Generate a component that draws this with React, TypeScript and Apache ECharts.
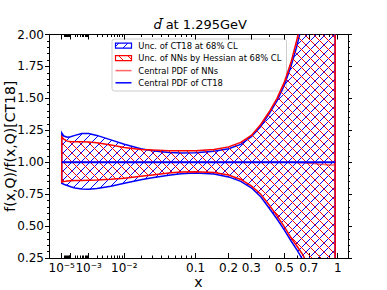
import React, { useEffect, useRef } from 'react';
import * as echarts from 'echarts';

// ---- data ----
const xValues = [1e-5, 2e-5, 5e-5, 1e-4, 2e-4, 5e-4, 1e-3, 2e-3, 5e-3, 0.01, 0.02, 0.03, 0.05, 0.07, 0.1, 0.15, 0.2, 0.25, 0.3, 0.35, 0.4, 0.45, 0.5, 0.55, 0.6, 0.65, 0.7, 0.75, 0.8, 0.85, 0.9, 0.95, 0.97];
const ct18Upper = [1.23, 1.205, 1.195, 1.2, 1.21, 1.225, 1.225, 1.21, 1.175, 1.14, 1.105, 1.09, 1.077, 1.073, 1.074, 1.085, 1.105, 1.14, 1.2, 1.28, 1.38, 1.48, 1.6, 1.75, 1.92, 2.12, 2.4, 2.8, 3.4, 4.2, 5.5, 8.0, 10.0];
const ct18Lower = [0.835, 0.828, 0.818, 0.808, 0.798, 0.79, 0.788, 0.795, 0.812, 0.835, 0.862, 0.878, 0.898, 0.91, 0.915, 0.908, 0.885, 0.85, 0.8, 0.73, 0.64, 0.555, 0.47, 0.385, 0.31, 0.23, 0.13, -0.02, -0.25, -0.6, -1.2, -2.5, -3.5];
const nnUpper = [1.2, 1.18, 1.165, 1.16, 1.16, 1.16, 1.158, 1.152, 1.135, 1.115, 1.1, 1.095, 1.09, 1.089, 1.09, 1.1, 1.12, 1.155, 1.21, 1.295, 1.395, 1.5, 1.625, 1.78, 1.97, 2.2, 2.5, 2.9, 3.5, 4.4, 5.8, 8.5, 10.5];
const nnLower = [0.845, 0.848, 0.852, 0.855, 0.856, 0.857, 0.858, 0.86, 0.866, 0.875, 0.89, 0.9, 0.915, 0.923, 0.926, 0.92, 0.9, 0.865, 0.815, 0.75, 0.665, 0.58, 0.495, 0.41, 0.34, 0.27, 0.18, 0.04, -0.2, -0.55, -1.1, -2.3, -3.2];
const nnCentral = [1, 1, 1, 1, 1, 1, 1, 1, 1, 1, 1, 1, 1, 1, 1, 1, 1, 1, 1, 1, 1, 1, 1, 0.999, 0.997, 0.995, 0.992, 0.989, 0.985, 0.982, 0.979, 0.979, 0.982];
const ct18Central = [1, 1, 1, 1, 1, 1, 1, 1, 1, 1, 1, 1, 1, 1, 1, 1, 1, 1, 1, 1, 1, 1, 1, 1, 1, 1, 1, 1, 1, 1, 1, 1, 1];

const xMajorTickValues = [1e-5, 1e-4, 1e-3, 1e-2, 0.1, 0.2, 0.3, 0.5, 0.7, 1];
const xLabelValues = [1e-5, 1e-3, 1e-2, 0.1, 0.2, 0.3, 0.5, 0.7, 1];
const xLabelTexts = ['10⁻⁵', '10⁻³', '10⁻²', '0.1', '0.2', '0.3', '0.5', '0.7', '1'];
const legendLabels = ['Unc. of CT18 at 68% CL', 'Unc. of NNs by Hessian at 68% CL', 'Central PDF of NNs', 'Central PDF of CT18'];
const titleSymbol = 'd\u0304';
const titleRest = ' at 1.295GeV';

const FONT = 'DejaVu Sans';
const POWER = 0.3;
const tf = (x: number) => Math.pow(x, POWER);
const T_MIN = -0.013;
const T_MAX = 1.036;

const xMinorTickValues: number[] = [];
for (const dec of [1e-5, 1e-4, 1e-3, 1e-2]) for (let m = 2; m <= 9; m++) xMinorTickValues.push(m * dec);
xMinorTickValues.push(0.4, 0.6, 0.8, 0.9);

function hatch(color: string, dir: '/' | '\\', s = 9, lw = 1) {
  const d = dir === '/'
    ? `M0 ${s} L${s} 0 M${-s / 2} ${s / 2} L${s / 2} ${-s / 2} M${s / 2} ${s * 1.5} L${s * 1.5} ${s / 2}`
    : `M0 0 L${s} ${s} M${-s / 2} ${s / 2} L${s / 2} ${s * 1.5} M${s / 2} ${-s / 2} L${s * 1.5} ${s / 2}`;
  const svg = `<svg xmlns="http://www.w3.org/2000/svg" width="${s}" height="${s}"><path d="${d}" stroke="${color}" stroke-width="${lw}" fill="none"/></svg>`;
  return {
    image: 'data:image/svg+xml;charset=utf-8,' + encodeURIComponent(svg),
    repeat: 'repeat',
    imageWidth: s,
    imageHeight: s,
  } as any;
}

const blueHatch = hatch('#0000ff', '/');
const redHatch = hatch('#ff0000', '\\');

function bandSeries(name: string, lower: number[], upper: number[], color: string, pattern: any, z: number) {
  const data = xValues.map((x, i) => [tf(x), lower[i], upper[i]]);
  return {
    type: 'custom',
    name,
    clip: true,
    z,
    data,
    encode: { x: 0, y: [1, 2] },
    renderItem: (params: any, api: any) => {
      if (params.dataIndex !== 0) return null;
      const pts: number[][] = [];
      for (let i = 0; i < data.length; i++) pts.push(api.coord([data[i][0], data[i][2]]));
      for (let i = data.length - 1; i >= 0; i--) pts.push(api.coord([data[i][0], data[i][1]]));
      return {
        type: 'polygon',
        shape: { points: pts },
        style: { fill: pattern, stroke: color, lineWidth: 1.5 },
      };
    },
  };
}

function lineSeries(name: string, ys: number[], color: string, width: number, z: number) {
  return {
    type: 'line',
    name,
    data: xValues.map((x, i) => [tf(x), ys[i]]),
    showSymbol: false,
    symbol: 'none',
    clip: true,
    z,
    lineStyle: { color, width },
  };
}

const tickLine = { color: '#000', width: 1 };

const baseX = {
  type: 'value',
  min: T_MIN,
  max: T_MAX,
  splitLine: { show: false },
  axisLabel: { show: false },
  axisLine: { show: false, onZero: false },
  axisTick: { show: false },
  silent: true,
};

const labelT = xLabelValues.map(tf);

const option: any = {
  animation: false,
  backgroundColor: '#ffffff',
  textStyle: { fontFamily: FONT },
  grid: { left: 49, right: 39, top: 34.5, bottom: 32, containLabel: false, outerBoundsMode: 'none' },
  xAxis: [
    {
      ...baseX,
      position: 'bottom',
      axisLine: { show: true, onZero: false, lineStyle: tickLine },
      axisTick: { show: true, inside: true, length: 5, customValues: xMajorTickValues.map(tf), lineStyle: tickLine },
      axisLabel: {
        show: true,
        customValues: labelT,
        hideOverlap: false,
        margin: 4,
        fontSize: 12,
        color: '#000',
        fontFamily: FONT,
        formatter: (v: number) => {
          let best = 0;
          for (let i = 1; i < labelT.length; i++) if (Math.abs(labelT[i] - v) < Math.abs(labelT[best] - v)) best = i;
          return xLabelTexts[best];
        },
      },
      name: 'x',
      nameLocation: 'middle',
      nameGap: 17,
      nameMoveOverlap: false,
      nameTextStyle: { fontSize: 14, color: '#000', fontFamily: FONT },
    },
    {
      ...baseX,
      position: 'bottom',
      axisTick: { show: true, inside: true, length: 2.5, customValues: xMinorTickValues.map(tf), lineStyle: tickLine },
    },
    {
      ...baseX,
      position: 'top',
      axisLine: { show: true, onZero: false, lineStyle: tickLine },
      axisTick: { show: true, inside: true, length: 5, customValues: xMajorTickValues.map(tf), lineStyle: tickLine },
    },
    {
      ...baseX,
      position: 'top',
      axisTick: { show: true, inside: true, length: 2.5, customValues: xMinorTickValues.map(tf), lineStyle: tickLine },
    },
  ],
  yAxis: [
    {
      type: 'value',
      position: 'left',
      min: 0.25,
      max: 2.0,
      interval: 0.25,
      splitLine: { show: false },
      axisLine: { show: true, onZero: false, lineStyle: tickLine },
      axisTick: { show: true, inside: false, length: 4, lineStyle: tickLine },
      minorTick: { show: true, splitNumber: 5, length: 2, lineStyle: tickLine },
      axisLabel: { margin: 5, fontSize: 12, color: '#000', fontFamily: FONT, formatter: (v: number) => v.toFixed(2) },
      name: 'f(x,Q)/f(x,Q)[CT18]',
      nameLocation: 'middle',
      nameGap: 32,
      nameRotate: 90,
      nameMoveOverlap: false,
      nameTextStyle: { fontSize: 14, color: '#000', fontFamily: FONT },
    },
    {
      type: 'value',
      position: 'right',
      min: 0.25,
      max: 2.0,
      interval: 0.25,
      splitLine: { show: false },
      axisLine: { show: true, onZero: false, lineStyle: tickLine },
      axisTick: { show: true, inside: false, length: 4, lineStyle: tickLine },
      minorTick: { show: true, splitNumber: 5, length: 2, lineStyle: tickLine },
      axisLabel: { show: false },
    },
  ],
  series: [
    bandSeries(legendLabels[0], ct18Lower, ct18Upper, '#0000ff', blueHatch, 2),
    bandSeries(legendLabels[1], nnLower, nnUpper, '#ff0000', redHatch, 3),
    lineSeries(legendLabels[2], nnCentral, 'rgba(255,0,0,0.6)', 1.5, 4),
    lineSeries(legendLabels[3], ct18Central, '#0000ff', 2, 5),
  ],
  graphic: [
    {
      type: 'text',
      x: 153.5,
      y: 24.5,
      z: 100,
      style: {
        text: titleSymbol,
        align: 'left',
        verticalAlign: 'middle',
        fontSize: 13,
        fontStyle: 'italic',
        fontFamily: FONT,
        fill: '#000',
      },
    },
    {
      type: 'text',
      x: 161.5,
      y: 24.5,
      z: 100,
      style: {
        text: titleRest,
        align: 'left',
        verticalAlign: 'middle',
        fontSize: 13,
        fontFamily: FONT,
        fill: '#000',
      },
    },
    {
      type: 'group',
      z: 100,
      children: [
        {
          type: 'rect',
          shape: { x: 112, y: 39, width: 174.5, height: 52, r: 2.5 },
          style: { fill: 'rgba(255,255,255,0.8)', stroke: '#cccccc', lineWidth: 1 },
        },
        {
          type: 'rect',
          shape: { x: 115.5, y: 43.2, width: 16, height: 5 },
          style: { fill: blueHatch, stroke: '#0000ff', lineWidth: 1.2 },
        },
        {
          type: 'rect',
          shape: { x: 115.5, y: 55.7, width: 16, height: 5 },
          style: { fill: redHatch, stroke: '#ff0000', lineWidth: 1.2 },
        },
        {
          type: 'line',
          shape: { x1: 115.5, y1: 70.6, x2: 131.5, y2: 70.6 },
          style: { stroke: 'rgba(255,0,0,0.6)', lineWidth: 1.5 },
        },
        {
          type: 'line',
          shape: { x1: 115.5, y1: 82.8, x2: 131.5, y2: 82.8 },
          style: { stroke: '#0000ff', lineWidth: 1.5 },
        },
        ...[45.7, 58.2, 70.6, 82.8].map((y, i) => ({
          type: 'text',
          x: 138.3,
          y,
          style: {
            text: legendLabels[i],
            fontSize: 8.4,
            fontFamily: FONT,
            fill: '#000',
            align: 'left',
            verticalAlign: 'middle',
          },
        })),
      ],
    },
  ],
};

export default function App() {
  const ref = useRef<HTMLDivElement>(null);
  useEffect(() => {
    const chart = echarts.init(ref.current as HTMLDivElement, null, { renderer: 'svg' });
    chart.setOption(option);
    return () => chart.dispose();
  }, []);
  return <div ref={ref} style={{ position: 'fixed', left: 0, top: 0, width: 387, height: 290 }} />;
}
